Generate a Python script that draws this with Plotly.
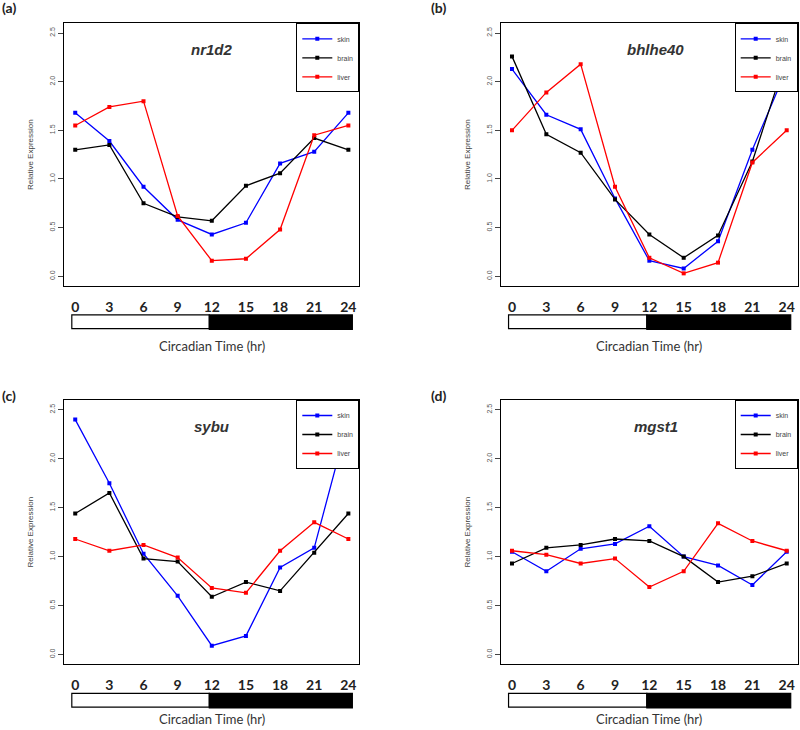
import plotly.graph_objects as go

hours = [0, 3, 6, 9, 12, 15, 18, 21, 24]
tissues = ["skin", "brain", "liver"]
colors = {"skin": "#0000FF", "brain": "#000000", "liver": "#FF0000"}
genes = ["nr1d2", "bhlhe40", "sybu", "mgst1"]
panel_labels = ["(a)", "(b)", "(c)", "(d)"]

nr1d2_skin = [1.68, 1.39, 0.92, 0.58, 0.43, 0.55, 1.16, 1.28, 1.68]
nr1d2_brain = [1.30, 1.35, 0.75, 0.61, 0.57, 0.93, 1.06, 1.42, 1.30]
nr1d2_liver = [1.55, 1.74, 1.80, 0.62, 0.16, 0.18, 0.48, 1.45, 1.55]

bhlhe40_skin = [2.13, 1.66, 1.51, 0.80, 0.16, 0.08, 0.36, 1.30, 2.13]
bhlhe40_brain = [2.26, 1.46, 1.27, 0.79, 0.43, 0.19, 0.42, 1.18, 2.26]
bhlhe40_liver = [1.50, 1.89, 2.18, 0.92, 0.19, 0.03, 0.14, 1.17, 1.50]

sybu_skin = [2.40, 1.75, 1.03, 0.60, 0.09, 0.19, 0.89, 1.09, 2.40]
sybu_brain = [1.44, 1.65, 0.98, 0.95, 0.59, 0.74, 0.65, 1.04, 1.44]
sybu_liver = [1.18, 1.06, 1.12, 0.99, 0.68, 0.63, 1.06, 1.35, 1.18]

mgst1_skin = [1.05, 0.85, 1.08, 1.13, 1.31, 1.00, 0.91, 0.71, 1.05]
mgst1_brain = [0.93, 1.09, 1.12, 1.18, 1.16, 1.00, 0.74, 0.80, 0.93]
mgst1_liver = [1.06, 1.02, 0.93, 0.98, 0.69, 0.85, 1.34, 1.16, 1.06]

series = {
    "nr1d2": [nr1d2_skin, nr1d2_brain, nr1d2_liver],
    "bhlhe40": [bhlhe40_skin, bhlhe40_brain, bhlhe40_liver],
    "sybu": [sybu_skin, sybu_brain, sybu_liver],
    "mgst1": [mgst1_skin, mgst1_brain, mgst1_liver],
}

y_ticks = [0, 0.5, 1.0, 1.5, 2.0, 2.5]
y_ticktext = ["0.0", "0.5", "1.0", "1.5", "2.0", "2.5"]
light_start, dark_start, bar_end = -0.3, 11.78, 24.35

W, H = 800, 730
# panel boxes in pixels: (left, right, top, bottom)
boxes = [
    (64.3, 359.3, 23.3, 286.0),
    (501.0, 797.7, 23.3, 286.0),
    (64.3, 359.3, 400.0, 664.3),
    (501.0, 797.7, 400.0, 664.3),
]
title_x = [0.5, 0.522, 0.5, 0.522]
label_pos = [(9, 7), (439, 7), (9, 395), (439, 395)]
xlabel_y = [(-0.229, "middle"), (-0.229, "middle"), (-0.246, "bottom"), (-0.246, "bottom")]

fig = go.Figure()
shapes = []
annotations = []
layout = {}

for i, gene in enumerate(genes):
    n = "" if i == 0 else str(i + 1)
    xa, ya = "x" + n, "y" + n
    legname = "legend" + n
    l, r, t, b = boxes[i]
    for tissue, vals in zip(tissues, series[gene]):
        fig.add_trace(go.Scatter(
            x=hours, y=vals, name=tissue, mode="lines+markers",
            line=dict(color=colors[tissue], width=1.3),
            marker=dict(color=colors[tissue], size=4, symbol="square"),
            xaxis=xa, yaxis=ya, legend=legname, showlegend=True,
        ))
    layout["xaxis" + n] = dict(
        domain=[l / W, r / W], anchor=ya, range=[-0.96, 24.96],
        tickvals=hours, ticktext=[str(h) for h in hours], ticks="",
        ticklabelstandoff=8,
        tickfont=dict(family="Lato", size=14, color="#222222", weight="bold"),
        showline=True, mirror=True, linecolor="black", linewidth=1.2,
        showgrid=False, zeroline=False,
    )
    layout["yaxis" + n] = dict(
        domain=[1 - b / H, 1 - t / H], anchor=xa, range=[-0.1, 2.6],
        tickvals=y_ticks, ticktext=y_ticktext, ticks="outside", ticklen=5,
        tickangle=-90, tickfont=dict(family="Liberation Sans", size=7, color="#555555"),
        showline=True, mirror=True, linecolor="black", linewidth=1.2,
        showgrid=False, zeroline=False,
        title=dict(text="Relative Expression", standoff=14,
                   font=dict(family="Liberation Sans", size=8, color="#444444")),
    )
    layout[legname] = dict(
        x=r / W, xanchor="right", y=1 - t / H, yanchor="top",
        bgcolor="white", bordercolor="black", borderwidth=1,
        font=dict(family="Liberation Sans", size=7, color="#444444"),
        itemwidth=30, tracegroupgap=0,
    )
    shapes.append(dict(type="rect", xref=xa, yref=ya + " domain",
                       x0=light_start, x1=dark_start, y0=-0.162, y1=-0.11,
                       fillcolor="white", line=dict(color="black", width=1.2)))
    shapes.append(dict(type="rect", xref=xa, yref=ya + " domain",
                       x0=dark_start, x1=bar_end, y0=-0.165, y1=-0.11,
                       fillcolor="black", line=dict(color="black", width=1.2)))
    yv, yanc = xlabel_y[i]
    annotations.append(dict(text="Circadian Time (hr)", xref=xa + " domain", yref=ya + " domain",
                            x=0.5, y=yv, showarrow=False, yanchor=yanc,
                            font=dict(family="Lato", size=13, color="#333333")))
    annotations.append(dict(text="<b><i>" + gene + "</i></b>", xref=xa + " domain", yref=ya + " domain",
                            x=title_x[i], y=0.9, showarrow=False, yanchor="middle",
                            font=dict(family="Liberation Sans", size=15, color="#333333")))
    px, py = label_pos[i]
    annotations.append(dict(text="<b>" + panel_labels[i] + "</b>", xref="paper", yref="paper",
                            x=px / W, y=1 - py / H, showarrow=False, xanchor="center", yanchor="middle",
                            font=dict(family="Lato", size=14, color="#222222")))

fig.update_layout(
    width=W, height=H, margin=dict(l=0, r=0, t=0, b=0),
    plot_bgcolor="white", paper_bgcolor="white",
    shapes=shapes, annotations=annotations, **layout,
)
fig.write_html("out.html", config={"displayModeBar": False},
               post_script="document.body.style.margin='0px';document.body.style.overflow='hidden';")
